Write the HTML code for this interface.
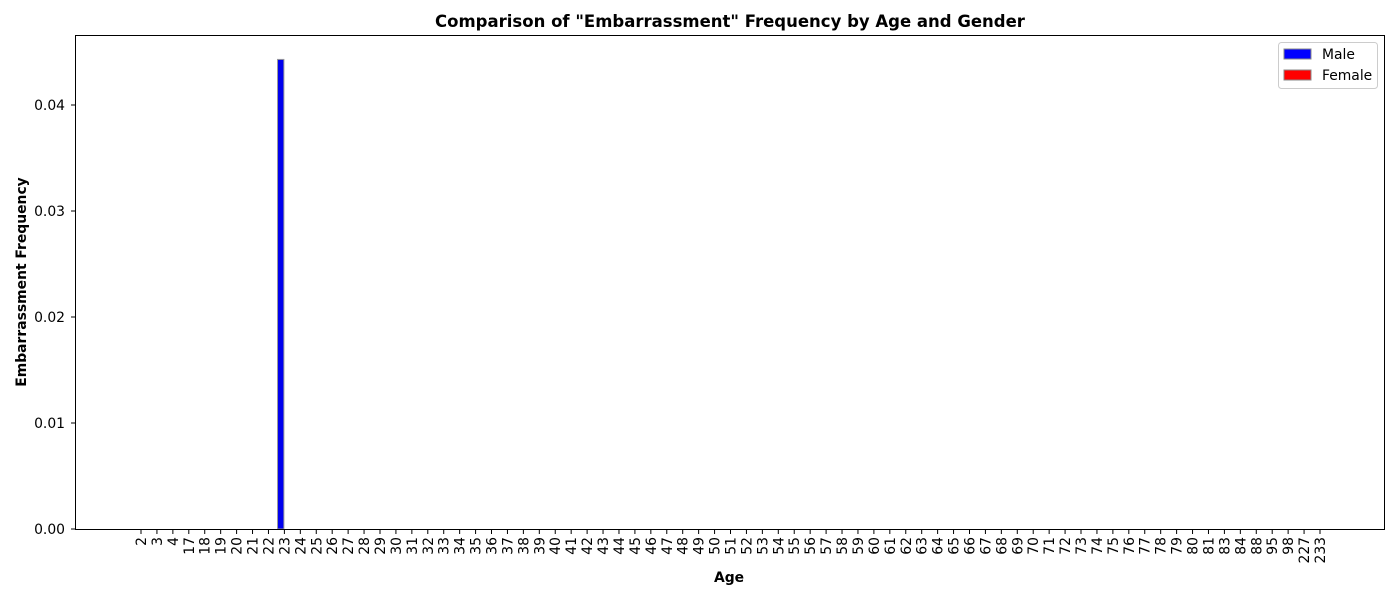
<!DOCTYPE html>
<html><head><meta charset="utf-8"><style>
body{margin:0;background:#fff;font-family:"DejaVu Sans",sans-serif}
svg text{font-family:"DejaVu Sans",sans-serif}
</style></head><body>
<svg id="chart" width="1400" height="600">
<text x="730" y="27" text-anchor="middle" font-size="16.5" font-weight="bold">Comparison of "Embarrassment" Frequency by Age and Gender</text>
<text x="729" y="582" text-anchor="middle" font-size="13.9" font-weight="bold">Age</text>
<text transform="translate(26,282) rotate(-90)" text-anchor="middle" font-size="13.9" font-weight="bold">Embarrassment Frequency</text>
<g id="marks"></g>
<rect x="75.5" y="35.5" width="1309" height="494" fill="none" stroke="#000" stroke-width="1"/>
<g>
<rect x="1278.5" y="42.5" width="99" height="46" rx="3" fill="#fff" stroke="#ccc"/>
<rect x="1284" y="49" width="27" height="10" fill="#0000ff" stroke="#888"/>
<text x="1322" y="59" font-size="13.9">Male</text>
<rect x="1284" y="70" width="27" height="10" fill="#ff0000" stroke="#888"/>
<text x="1322" y="80" font-size="13.9">Female</text>
</g>
</svg>
<script>
const categories=[2,3,4,17,18,19,20,21,22,23,24,25,26,27,28,29,30,31,32,33,34,35,36,37,38,39,40,41,42,43,44,45,46,47,48,49,50,51,52,53,54,55,56,57,58,59,60,61,62,63,64,65,66,67,68,69,70,71,72,73,74,75,76,77,78,79,80,81,83,84,88,95,98,227,233];
const maleValues=categories.map(c=>c===23?0.0443:0);
const femaleValues=categories.map(c=>0);
const yTicks=[0,0.01,0.02,0.03,0.04];
const yTickLabels=["0.00","0.01","0.02","0.03","0.04"];
const NS="http://www.w3.org/2000/svg";
const g=document.getElementById('marks');
const x0=141,dx=(1320-141)/74;
const xs=i=>x0+i*dx;
const ys=v=>529-v*10600;
function mk(t,a){const e=document.createElementNS(NS,t);for(const k in a)e.setAttribute(k,a[k]);g.appendChild(e);return e;}
yTicks.forEach((v,i)=>{
 const y=ys(v);
 const l=mk('line',{x1:71,x2:75,y1:y,y2:y,stroke:'#000'});
 
 
 const t=mk('text',{x:65,y:y+5,'text-anchor':'end','font-size':13.9});
 t.textContent=yTickLabels[i];
 
 
});
const bw=0.4*dx;
categories.forEach((c,i)=>{
 const x=xs(i);
 const l=mk('line',{x1:x,x2:x,y1:530,y2:534,stroke:'#000'});
 
 
 const t=mk('text',{transform:`translate(${x+5},537) rotate(-90)`,'text-anchor':'end','font-size':13.9});
 t.textContent=c;
 
 
 if(maleValues[i]>0){
  const r=mk('rect',{x:x-bw-0.5,y:ys(maleValues[i]),width:bw,height:529-ys(maleValues[i]),fill:'#0000ee',stroke:'#999','stroke-width':1});
  
  
 }
 if(femaleValues[i]>0){
  const r=mk('rect',{x:x,y:ys(femaleValues[i]),width:bw,height:529-ys(femaleValues[i]),fill:'#ff0000',stroke:'#999','stroke-width':1});
  
  
 }
});
</script>
</body></html>
